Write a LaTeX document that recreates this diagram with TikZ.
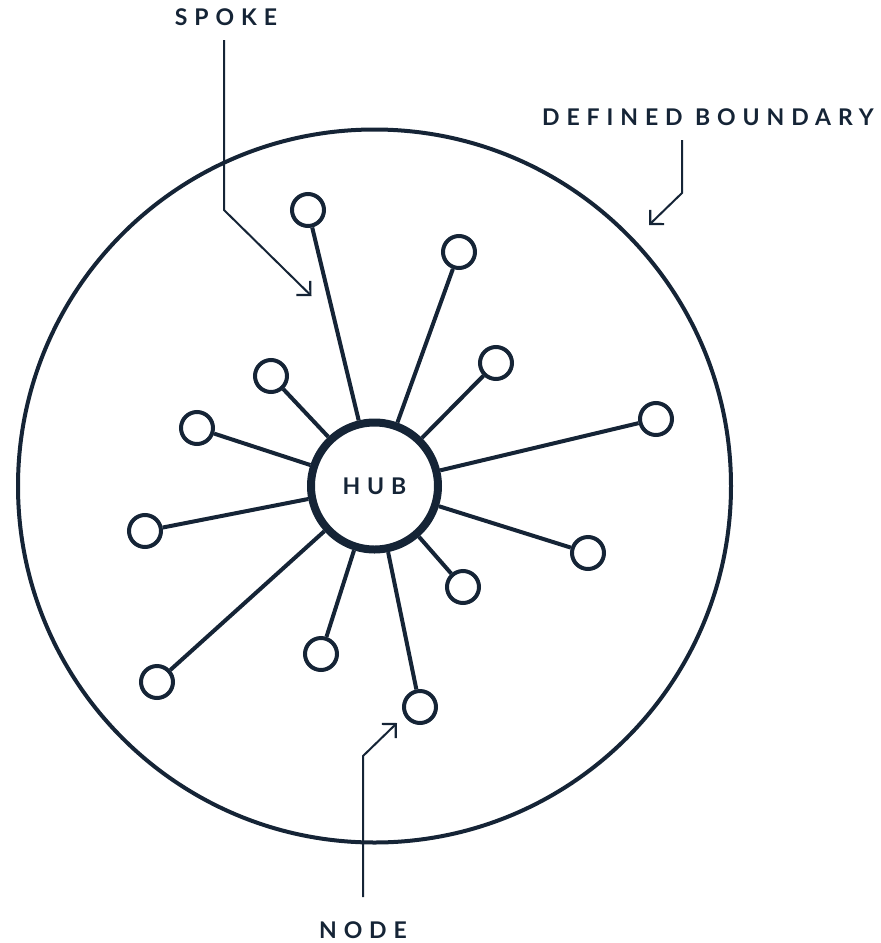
\documentclass[tikz,border=0pt]{standalone}
\usepackage{fontspec}
\setmainfont{Lato}[LetterSpace=30]
\usetikzlibrary{arrows.meta}
\definecolor{ink}{RGB}{21,36,54}
\begin{document}
\begin{tikzpicture}[x=1pt,y=-1pt,
  every node/.style={text=ink},
  lbl/.style={inner sep=0pt, font=\fontsize{23}{26}\selectfont\bfseries},
  boundarycircle/.style={draw=ink, circle, line width=4pt, minimum size=713pt, inner sep=0pt},
  hubnode/.style={draw=ink, circle, line width=8pt, minimum size=127pt, inner sep=0pt, font=\fontsize{23}{26}\selectfont\bfseries},
  leaf/.style={draw=ink, circle, line width=4pt, minimum size=32pt, inner sep=0pt},
  spokeline/.style={draw=ink, line width=4pt},
  leader/.style={draw=ink, line width=2pt, -{Straight Barb[angle=90:14pt, line width=2.2pt]}}
]
\useasboundingbox (0,0) rectangle (881,943);
\node[boundarycircle] (boundary) at (374.5,486) {};
\node[hubnode] (hub) at (374.5,486) {HUB};
\node[leaf] (n1) at (308,210) {};
\node[leaf] (n2) at (459,252) {};
\node[leaf] (n3) at (496,363) {};
\node[leaf] (n4) at (271,376) {};
\node[leaf] (n5) at (197,428) {};
\node[leaf] (n6) at (656,419) {};
\node[leaf] (n7) at (145,531) {};
\node[leaf] (n8) at (588,553) {};
\node[leaf] (n9) at (463,587) {};
\node[leaf] (n10) at (321,654) {};
\node[leaf] (n11) at (157,682) {};
\node[leaf] (n12) at (420,707) {};
\foreach \n in {n1,n2,n3,n4,n5,n6,n7,n8,n9,n10,n11,n12}
  \draw[spokeline] (hub) -- (\n);
\node[lbl] (spokelbl) at (226,17) {SPOKE};
\node[lbl] (boundlbl) at (708,117) {DEFINED BOUNDARY};
\node[lbl] (nodelbl) at (363,930) {NODE};
\coordinate (s0) at (224,40);
\coordinate (s1) at (224,210);
\coordinate (s2) at (311.5,296);
\coordinate (b0) at (682,140);
\coordinate (b1) at (682,193);
\coordinate (b2) at (649,225);
\coordinate (d0) at (363,897);
\coordinate (d1) at (363,756);
\coordinate (d2) at (397,723);
\draw[leader] (s0) -- (s1) -- (s2);
\draw[leader] (b0) -- (b1) -- (b2);
\draw[leader] (d0) -- (d1) -- (d2);
\end{tikzpicture}
\end{document}
